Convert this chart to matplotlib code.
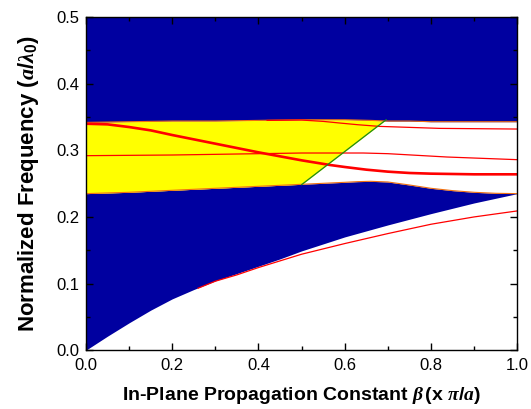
import numpy as np
import matplotlib
matplotlib.use("Agg")
import matplotlib.pyplot as plt
from matplotlib.ticker import MultipleLocator

# ---- data ----
edge_x = [0.0, 0.1, 0.2, 0.3, 0.4, 0.5, 0.55, 0.6, 0.63, 0.66, 0.7, 0.75, 0.8, 0.85, 0.9, 0.95, 1.0]
lower_edge = [0.235, 0.237, 0.240, 0.243, 0.246, 0.249, 0.2505, 0.252, 0.253, 0.2535, 0.2525, 0.248,
              0.243, 0.2395, 0.237, 0.2355, 0.235]
upper_edge = [0.342, 0.343, 0.344, 0.344, 0.345, 0.346, 0.346, 0.346, 0.3455, 0.345, 0.344, 0.344,
              0.343, 0.343, 0.343, 0.343, 0.343]

cone_x = [0.0, 0.025, 0.05, 0.1, 0.15, 0.2, 0.25, 0.3, 0.35, 0.4, 0.45, 0.5, 0.6, 0.7, 0.8, 0.9, 1.0]
cone_y = [0.0, 0.0105, 0.021, 0.041, 0.060, 0.077, 0.091, 0.104, 0.115, 0.126, 0.137, 0.149, 0.170,
          0.188, 0.205, 0.221, 0.235]

guided_x = [0.26, 0.3, 0.35, 0.4, 0.45, 0.5, 0.6, 0.7, 0.8, 0.9, 1.0]
guided_y = [0.093, 0.1035, 0.113, 0.124, 0.134, 0.144, 0.160, 0.175, 0.189, 0.200, 0.209]

thick_x = [0.0, 0.05, 0.1, 0.15, 0.2, 0.3, 0.4, 0.45, 0.5, 0.566, 0.6, 0.65, 0.7, 0.75, 0.8, 0.9, 1.0]
thick_y = [0.340, 0.339, 0.335, 0.330, 0.323, 0.310, 0.297, 0.291, 0.285, 0.278, 0.275, 0.271,
           0.268, 0.266, 0.265, 0.264, 0.264]

mid_x = [0.0, 0.2, 0.4, 0.5, 0.643, 0.7, 0.837, 1.0]
mid_y = [0.292, 0.293, 0.295, 0.296, 0.296, 0.295, 0.290, 0.286]

top_x = [0.42, 0.5, 0.55, 0.589, 0.63, 0.68, 0.75, 0.82, 1.0]
top_y = [0.345, 0.3455, 0.3435, 0.341, 0.3385, 0.336, 0.3345, 0.333, 0.332]

air_slope = 0.497          # light line of the cladding (green)
air_x = [0.5, 0.696]

xticks = [0.0, 0.2, 0.4, 0.6, 0.8, 1.0]
yticks = [0.0, 0.1, 0.2, 0.3, 0.4, 0.5]

# ---- style ----
plt.rcParams['font.family'] = ['Liberation Sans', 'DejaVu Sans']
plt.rcParams['mathtext.fontset'] = 'custom'
plt.rcParams['mathtext.rm'] = 'Liberation Sans:bold'
plt.rcParams['mathtext.it'] = 'Liberation Serif:italic:bold'
plt.rcParams['mathtext.bf'] = 'Liberation Sans:bold'

navy = '#0000A0'
edge_col = '#F07010'

fig = plt.figure(figsize=(5.31, 4.09), dpi=100)
ax = fig.add_axes([0.162, 0.144, 0.812, 0.814])

xs = np.linspace(0, 1, 801)
lc = np.interp(xs, cone_x, cone_y)
lo = np.interp(xs, edge_x, lower_edge)
up = np.interp(xs, edge_x, upper_edge)

ax.fill_between(xs, lc, 0.5, color=navy, lw=0, zorder=1)
ax.fill_between(xs, lo, up, color='white', lw=0, zorder=2)
ylo = np.maximum(lo, air_slope * xs)
ax.fill_between(xs, ylo, up, where=ylo < up, color='#FFFF00', lw=0, zorder=3)

ax.plot(edge_x, lower_edge, color=edge_col, lw=0.8, zorder=4)
ax.plot(edge_x, upper_edge, color=edge_col, lw=0.8, zorder=4)

ax.plot(guided_x, guided_y, color='#FF0000', lw=0.9, zorder=5)
ax.plot(mid_x, mid_y, color='#FF0000', lw=0.9, zorder=5)
ax.plot(top_x, top_y, color='#FF0000', lw=0.9, zorder=5)
ax.plot(thick_x, thick_y, color='#FF0000', lw=1.9, zorder=6)

ax.plot(air_x, [air_slope * v for v in air_x], color='#1A8A1A', lw=0.9, zorder=7)

ax.set_xlim(0, 1)
ax.set_ylim(0, 0.5)
ax.set_xticks(xticks)
ax.set_yticks(yticks)
ax.set_xticklabels([f'{v:.1f}' for v in xticks])
ax.set_yticklabels([f'{v:.1f}' for v in yticks])
ax.xaxis.set_minor_locator(MultipleLocator(0.1))
ax.yaxis.set_minor_locator(MultipleLocator(0.05))
ax.tick_params(which='both', direction='in', top=True, right=True, labelsize=12, width=1, zorder=10)
ax.tick_params(axis='x', which='both', pad=6)
ax.tick_params(axis='y', which='both', pad=5)
ax.tick_params(which='major', length=5)
ax.tick_params(which='minor', length=3)
for s in ax.spines.values():
    s.set_linewidth(1)
    s.set_zorder(10)

ax.set_xlabel(r'In-Plane Propagation Constant $\beta\,$(x $\pi/a$)', fontsize=14, fontweight='bold', labelpad=8)
ax.set_ylabel(r'Normalized Frequency ($a/\lambda_0$)', fontsize=16, fontweight='bold', labelpad=11)

fig.savefig('out.png', dpi=100)
